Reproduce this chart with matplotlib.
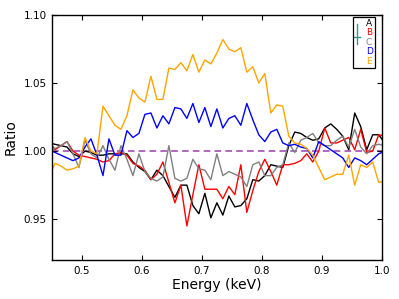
import numpy as np
import matplotlib
matplotlib.use("Agg")
import matplotlib.pyplot as plt
from matplotlib.lines import Line2D

energy = np.round(0.445 + 0.01 * np.arange(57), 3)

ratio_A = [1.006, 1.005, 1.004, 1.003, 0.998, 0.996, 1.000, 0.999, 0.997, 0.997,
           0.998, 0.998, 0.998, 0.998, 0.992, 0.988, 0.985, 0.979, 0.986, 0.982,
           0.974, 0.966, 0.975, 0.975, 0.960, 0.954, 0.969, 0.951, 0.962, 0.953,
           0.967, 0.959, 0.960, 0.965, 0.979, 0.978, 0.982, 0.990, 0.989, 0.988,
           1.004, 1.014, 1.013, 1.010, 1.008, 1.009, 1.017, 1.020, 1.016, 1.011,
           1.001, 1.028, 1.018, 1.001, 1.012, 1.012, 1.006]
ratio_B = [1.008, 1.001, 1.004, 1.007, 1.000, 0.997, 0.996, 0.995, 0.994, 0.992,
           0.993, 0.998, 0.999, 0.997, 0.991, 0.989, 0.986, 0.979, 0.983, 0.992,
           0.977, 0.962, 0.975, 0.945, 0.968, 0.990, 0.972, 0.972, 0.972, 0.965,
           0.974, 0.968, 0.990, 0.955, 0.971, 0.985, 0.994, 0.985, 0.975, 0.990,
           0.990, 0.991, 0.993, 0.998, 0.992, 1.000, 1.017, 1.006, 1.006, 1.008,
           1.010, 1.001, 1.016, 0.999, 1.000, 1.012, 1.011]
ratio_C = [1.000, 1.002, 1.004, 1.007, 0.998, 0.988, 1.008, 0.998, 0.995, 1.004,
           0.994, 0.986, 1.004, 0.994, 0.982, 0.998, 0.985, 0.980, 0.978, 0.981,
           1.004, 0.980, 0.978, 0.980, 0.994, 0.987, 0.986, 0.979, 0.998, 0.982,
           0.985, 0.983, 0.981, 0.974, 0.990, 0.992, 0.982, 0.982, 0.988, 0.990,
           1.006, 0.999, 1.008, 1.010, 1.013, 1.006, 1.004, 1.004, 1.008, 1.011,
           1.003, 1.016, 1.003, 0.998, 1.004, 1.005, 1.004]
ratio_D = [1.001, 0.999, 0.997, 0.995, 0.993, 0.995, 1.003, 1.009, 0.997, 0.982,
           1.009, 0.997, 0.997, 1.015, 1.010, 1.013, 1.027, 1.028, 1.017, 1.026,
           1.020, 1.032, 1.031, 1.024, 1.035, 1.021, 1.032, 1.018, 1.031, 1.017,
           1.024, 1.026, 1.019, 1.035, 1.023, 1.012, 1.007, 1.014, 1.016, 1.006,
           1.004, 1.005, 1.003, 1.002, 0.995, 1.007, 1.004, 1.001, 0.998, 0.995,
           0.988, 0.995, 0.993, 0.990, 0.994, 0.998, 1.000]
ratio_E = [0.981, 0.991, 0.989, 0.986, 0.987, 0.989, 1.010, 1.000, 0.998, 1.033,
           1.026, 1.019, 1.016, 1.026, 1.045, 1.039, 1.036, 1.055, 1.038, 1.038,
           1.061, 1.060, 1.065, 1.059, 1.071, 1.058, 1.067, 1.064, 1.072, 1.082,
           1.075, 1.073, 1.076, 1.058, 1.062, 1.050, 1.057, 1.028, 1.034, 1.033,
           1.011, 1.006, 1.005, 1.002, 0.997, 0.988, 0.979, 0.981, 0.983, 0.983,
           0.997, 0.975, 0.990, 0.988, 0.992, 0.977, 0.978]

labels = ["A", "B", "C", "D", "E"]
colors = ["black", "red", "gray", "blue", "orange"]
series = [ratio_A, ratio_B, ratio_C, ratio_D, ratio_E]

fig = plt.figure(figsize=(3.99, 2.99), dpi=100)
ax = fig.add_axes([52 / 399, 1 - 260 / 299, (381.7 - 52) / 399, (260 - 15) / 299])

ax.axhline(1.0, color="#a24fb4", lw=1.2, ls=(0, (4, 2.5)), zorder=1)
for vals, c in zip(series, colors):
    ax.plot(energy, vals, color=c, lw=1.0, zorder=2)

ax.set_xlim(0.45, 1.0)
ax.set_ylim(0.92, 1.10)
ax.set_xticks([0.5, 0.6, 0.7, 0.8, 0.9, 1.0])
ax.set_yticks([0.95, 1.00, 1.05, 1.10])
ax.set_yticklabels(["0.95", "1.00", "1.05", "1.10"])
ax.tick_params(direction="in", top=True, right=True, length=3.5, width=0.8,
               labelsize=7.5, pad=4)
for s in ax.spines.values():
    s.set_linewidth(1.0)
ax.set_xlabel("Energy (keV)", fontsize=10, labelpad=2)
ax.set_ylabel("Ratio", fontsize=10, labelpad=4)

handles = [Line2D([], [], ls="none") for _ in labels]
leg = ax.legend(handles, labels, labelcolor=colors, loc="upper right",
                bbox_to_anchor=(1 - 6.7 / 329.7, 1 - 1.7 / 245),
                fontsize=6.5, handlelength=0.9, handletextpad=0.3,
                labelspacing=0.05, borderpad=0.25, borderaxespad=0,
                fancybox=False, edgecolor="black", framealpha=1)
leg.get_frame().set_linewidth(0.9)

teal = "#2f9a88"
fig.add_artist(Line2D([356.7 / 399] * 2, [1 - 24 / 299, 1 - 44 / 299],
                      color=teal, lw=1.0, transform=fig.transFigure))
fig.add_artist(Line2D([354.0 / 399, 359.5 / 399], [1 - 36.7 / 299] * 2,
                      color=teal, lw=1.0, transform=fig.transFigure))

fig.savefig("out.png", dpi=100)
